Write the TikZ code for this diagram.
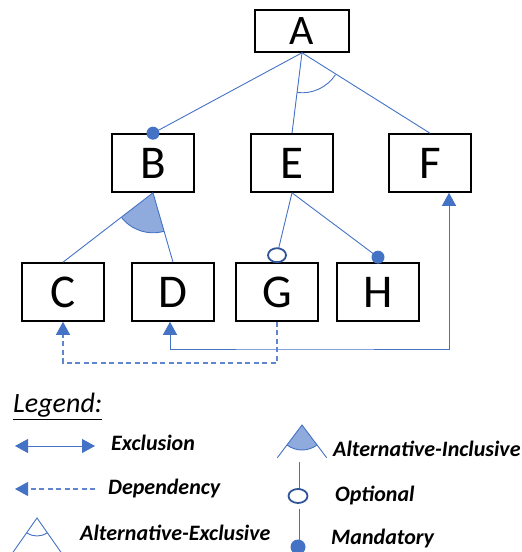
\documentclass[tikz,border=0pt]{standalone}
\usepackage{fontspec}
\setmainfont{Carlito}
\usepackage{tikz}
\usetikzlibrary{arrows.meta,calc}
\definecolor{lineblue}{HTML}{4472C4}
\definecolor{fillblue}{HTML}{8FAADC}
\definecolor{darkblue}{HTML}{2F5597}

\begin{document}
\begin{tikzpicture}[x=1pt,y=1pt,
    feature/.style={draw, line width=1.6pt, minimum width=82pt, minimum height=58pt,
      inner sep=0pt, font=\fontsize{47}{50}\selectfont},
    link/.style={lineblue, line width=0.9pt},
    tip/.style={-{Triangle[width=14pt,length=13pt]}},
    excl/.style={link, {Triangle[width=14pt,length=13pt]}-{Triangle[width=14pt,length=13pt]}},
    dep/.style={link, draw=lineblue!85, line width=1.2pt, dash pattern=on 5pt off 3.5pt,
      -{Triangle[width=14pt,length=13pt,color=lineblue]}},
    mand/.style={fill=lineblue},
    opt/.style={draw=darkblue, fill=white, line width=1.8pt},
    incl/.style={fill=fillblue},
    legtext/.style={anchor=base west, inner sep=0pt,
      font=\fontsize{22}{26}\selectfont\bfseries\itshape}]
  \useasboundingbox (0,0) rectangle (522,552);
  % Sizes
  \pgfmathsetmacro{\dotr}{6.5}
  \pgfmathsetmacro{\arcr}{40}

  % vertices
  \node[feature, minimum width=94pt, minimum height=42pt, font=\fontsize{42}{44}\selectfont] (a) at (302,521) {A};
  \node[feature] (b) at (153,389) {B};
  \node[feature] (e) at (292,389) {E};
  \node[feature] (f) at (430,389) {F};
  \node[feature] (c) at (63,260) {C};
  \node[feature] (d) at (173,260) {D};
  \node[feature] (g) at (277,260) {G};
  \node[feature] (h) at (378,260) {H};
  \coordinate (gopt) at ($(g.north)+(0,7)$);
  \coordinate (hmand) at ($(h.north)+(0,5)$);
  \coordinate (dend) at ($(d.south)+(-3,0)$);
  \coordinate (fend) at ($(f.south)+(19,0)$);
  \coordinate (exlow) at (300,203);
  \coordinate (deplow) at (170,189);

  % draw diagram
  \fill[incl] (b.south) -- ++(218:40) arc[start angle=218, end angle=286, radius=40] -- cycle;
  \draw[link] ([shift={(218:40)}]b.south) arc[start angle=218, end angle=286, radius=40];
  \draw[link] (a.south) -- (b.north);
  \draw[link] (a.south) -- (e.north);
  \draw[link] (a.south) -- (f.north);
  \draw[link] ([shift={(263:\arcr)}]a.south) arc[start angle=263, end angle=327, radius=\arcr];
  \draw[link] (b.south) -- (c.north);
  \draw[link] (b.south) -- (d.north);
  \draw[link] (e.south) -- (gopt);
  \draw[link] (e.south) -- (hmand);
  \fill[mand] (b.north) circle (\dotr);
  \fill[mand] (hmand) circle (\dotr);
  \draw[opt] (gopt) ellipse [x radius=9, y radius=7];
  \draw[excl] (dend) |- (exlow) -| (fend);
  \draw[dep] (g.south) |- (deplow) -| (c.south);

  % labels
  \node[anchor=base west, inner sep=0pt, font=\fontsize{28}{30}\selectfont\itshape]
    (lgd) at (13,139) {\underline{Legend:}};
  \draw[excl] (15,106) -- (95,106);
  \node[legtext] (lexcl) at (111,101) {Exclusion};
  \draw[dep] (95,63) -- (15,63);
  \node[legtext] (ldep) at (108,57) {Dependency};
  \draw[link] (37,34) ++(235:42) -- (37,34) -- ++(305:42);
  \draw[link] (37,34) ++(235:18) arc[start angle=235, end angle=305, radius=18];
  \node[legtext] (lalex) at (80,11) {Alternative-Exclusive};
  \fill[incl] (302,127) -- ++(233:25) arc[start angle=233, end angle=307, radius=25] -- cycle;
  \draw[link] (302,127) ++(233:25) arc[start angle=233, end angle=307, radius=25];
  \draw[link] (302,127) ++(233:41) -- (302,127) -- ++(307:41);
  \node[legtext] (lalin) at (333,95) {Alternative-Inclusive};
  \draw[link] (299,90) -- (299,63);
  \draw[opt] (298,56) ellipse [x radius=9.5, y radius=7];
  \node[legtext] (lopt) at (335,50) {Optional};
  \draw[link] (299,43) -- (299,12);
  \fill[mand] (298,5) circle (7.5);
  \node[legtext] (lmand) at (331,7) {Mandatory};
\end{tikzpicture}
\end{document}
